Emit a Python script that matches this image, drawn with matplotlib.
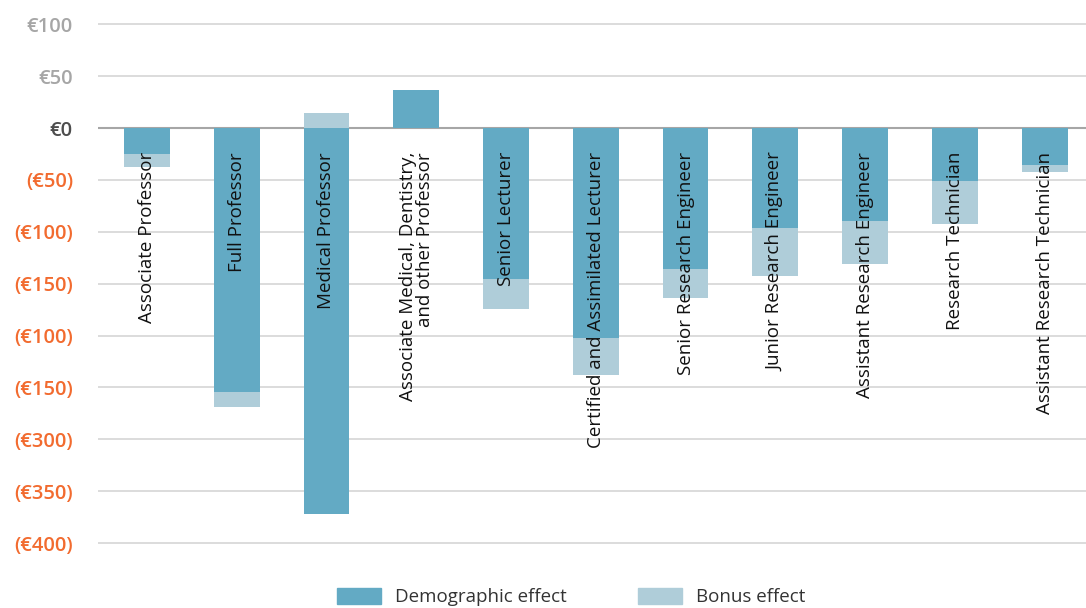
import numpy as np
import matplotlib.pyplot as plt
from matplotlib.patches import Patch

categories = ['Associate Professor', 'Full Professor', 'Medical Professor',
              'Associate Medical, Dentistry,\nand other Professor', 'Senior Lecturer',
              'Certified and Assimilated Lecturer', 'Senior Research Engineer',
              'Junior Research Engineer', 'Assistant Research Engineer',
              'Research Technician', 'Assistant Research Technician']
demographic = [-25, -254, -372, 37, -145, -202, -136, -96, -90, -51, -36]
bonus = [-13, -15, 14, 0, -29, -36, -28, -47, -41, -41, -6]

tick_vals = [100, 50, 0, -50, -100, -150, -200, -250, -300, -350, -400]
tick_labels = ['€100', '€50', '€0', '(€50)', '(€100)', '(€150)', '(€100)', '(€150)',
               '(€300)', '(€350)', '(€400)']

dark = '#63aac4'
light = '#afcdd9'
orange = '#f26b2f'

plt.rcParams['font.family'] = ['Open Sans', 'DejaVu Sans']

fig = plt.figure(figsize=(10.86, 6.08), dpi=100)
ax = fig.add_axes([98/1086, 1 - 560/608, 1 - 98/1086, 550/608])

x = np.arange(len(categories))
dem = np.array(demographic)
bon = np.array(bonus)
# bonus stacks on top of demographic if same sign, otherwise starts from zero
bottom = np.where(np.sign(bon) == np.sign(dem), dem, 0)
ax.bar(x, dem, width=0.51, color=dark, zorder=2)
ax.bar(x, bon, bottom=bottom, width=0.51, color=light, zorder=2)

for xi, lab in zip(x, categories):
    ax.text(xi, -23, lab, rotation=90, ha='center', va='top', multialignment='right',
            fontsize=13.5, fontweight='medium', color='#111111', zorder=3, linespacing=0.9)

ax.set_xlim(-0.545, 10.46)
ax.set_ylim(-416.2, 113.7)
ax.set_yticks(tick_vals)
ax.set_yticklabels(tick_labels)
for t, v in zip(ax.get_yticklabels(), tick_vals):
    t.set_fontsize(14.5)
    t.set_fontweight('semibold')
    if v > 0:
        t.set_color('#a6a6a6')
    elif v == 0:
        t.set_color('#4d4d4d')
    else:
        t.set_color(orange)
ax.tick_params(axis='y', length=0, pad=18)
ax.set_xticks([])
for v in tick_vals:
    ax.axhline(v, color='#a6a6a6' if v == 0 else '#d9d9d9', lw=1.5 if v == 0 else 1.3, zorder=1)
for s in ax.spines.values():
    s.set_visible(False)

handles = [Patch(color=dark, label='Demographic effect'), Patch(color=light, label='Bonus effect')]
fig.legend(handles=handles, loc='lower center', bbox_to_anchor=(0.526, -0.025), ncol=2,
           frameon=False, fontsize=13.5, handlelength=2.35, handleheight=0.95,
           handletextpad=0.75, columnspacing=3.8, labelcolor='#333333')

plt.savefig('out.png', dpi=100)
